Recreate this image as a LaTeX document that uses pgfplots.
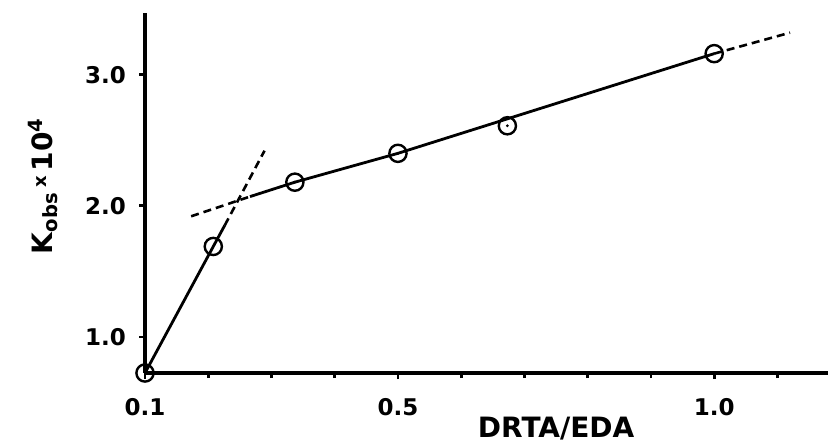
\documentclass[border=0pt]{standalone}
\usepackage{pgfplots}
\pgfplotsset{compat=1.18}
\usepackage{fontspec}
\setmainfont{DejaVu Sans}

\begin{document}
\begin{tikzpicture}
\useasboundingbox (-72.5pt,-35.5pt) rectangle (341.5pt,186.5pt);
\begin{axis}[
    at={(0,0)}, anchor=south west,
    scale only axis,
    width=341.5pt, height=180pt,
    xmin=0.1, xmax=1.18,
    ymin=0.725, ymax=3.47,
    axis lines*=left,
    axis line style={line width=1.9pt},
    clip=false,
    tick align=outside,
    tick style={line width=1.4pt, black},
    major tick length=3pt,
    minor tick length=2.5pt,
    xtick={0.1,0.5,1.0},
    xticklabels={0.1,0.5,1.0},
    minor xtick={0.2,0.3,0.4,0.6,0.7,0.8,0.9,1.1},
    ytick={1,2,3},
    yticklabels={1.0,2.0,3.0},
    ticklabel style={font=\bfseries\fontsize{11.5}{12}\selectfont},
    xticklabel style={yshift=-6pt},
    yticklabel style={xshift=-3pt},
    /pgf/number format/assume math mode=true,
    xlabel={DRTA/EDA},
    xlabel style={at={(axis description cs:0.602,0)}, anchor=base, yshift=-32pt,
        font=\bfseries\fontsize{14}{16}\selectfont},
    ylabel={K\textsubscript{obs}\,{\fontsize{9}{9}\selectfont\raisebox{3pt}{x}}\,10\textsuperscript{4}},
    ylabel style={at={(axis description cs:-0.135,0.52)}, anchor=base,
        font=\bfseries\fontsize{14}{16}\selectfont},
]
% steep branch
\addplot[black, line width=1.4pt] coordinates {(0.1,0.725) (0.208,1.69) (0.226,1.85)};
\addplot[black, line width=1.3pt, dash pattern=on 4pt off 2.5pt] coordinates {(0.226,1.85) (0.289,2.42)};
% shallow branch
\addplot[black, line width=1.3pt, dash pattern=on 4pt off 2.5pt] coordinates {(0.173,1.92) (0.266,2.07)};
\addplot[black, line width=1.4pt] coordinates {(0.266,2.07) (0.337,2.18) (0.5,2.40) (1.0,3.16)};
\addplot[black, line width=1.3pt, dash pattern=on 4pt off 2.5pt] coordinates {(1.0,3.16) (1.12,3.32)};
% data points
\addplot[only marks, mark=o, mark size=4.3pt, mark options={fill=white, line width=1.2pt, black}]
    coordinates {(0.1,0.725) (0.208,1.69) (0.337,2.18) (0.5,2.40) (0.673,2.61) (1.0,3.16)};
\addplot[only marks, mark=*, mark size=0.5pt, black]
    coordinates {(0.337,2.18) (0.5,2.40) (0.673,2.61)};
\end{axis}
\end{tikzpicture}
\end{document}
